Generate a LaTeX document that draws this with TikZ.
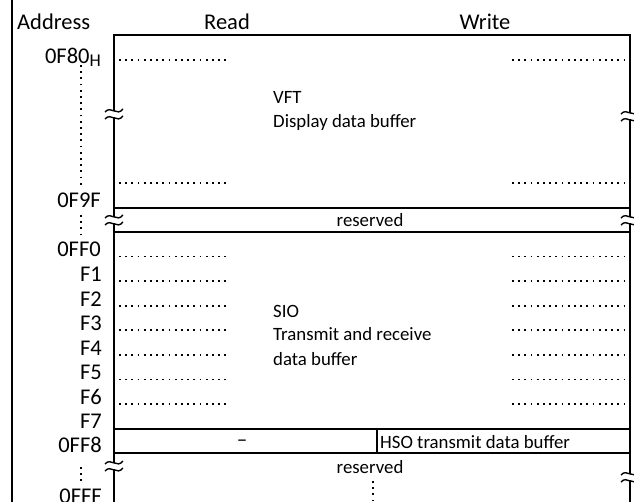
\documentclass[tikz,border=0pt]{standalone}
\usepackage{fontspec}
\setmainfont{Carlito}
\begin{document}
\begin{tikzpicture}[x=1pt,y=-1pt,
  frameline/.style={line width=1.7pt},
  dotline/.style={line width=1.8pt, dash pattern=on 1.8pt off 4.4pt},
  big/.style={font=\fontsize{22.5}{25}\selectfont, inner sep=0pt},
  small/.style={font=\fontsize{18.8}{22}\selectfont, inner sep=0pt},
  brk/.pic={
    \fill[white] (-2.6,-3.4) rectangle (2.6,3.4);
    \draw[line width=1.4pt] (-9,-2) .. controls (-3,-9) and (3,3) .. (9,-5);
    \draw[line width=1.4pt] (-9,5) .. controls (-3,-2) and (3,10) .. (9,2);
  }]
\useasboundingbox (0,0) rectangle (634,502);
% outer frame line
\draw[frameline] (12,0) -- (12,502);
% main box
\coordinate (tl) at (114,35);
\coordinate (tr) at (630,35);
\coordinate (bl) at (114,502);
\coordinate (br) at (630,502);
\draw[frameline] (bl) -- (tl) -- (tr) -- (br);
% reserved band
\draw[frameline] (114,208) -- (630,208);
\draw[frameline] (114,232) -- (630,232);
% 0FF8 row
\draw[frameline] (114,429) -- (630,429);
\draw[frameline] (114,453) -- (630,453);
\draw[frameline] (377,429) -- (377,453);
% dotted row lines
\foreach \yy in {60,183,256.6,281.1,305.7,330.2,354.8,379.4,403.9} {
  \draw[dotline] (119,\yy) -- (228,\yy);
  \draw[dotline] (512,\yy) -- (629,\yy);
}
% dotted address continuation marks
\draw[dotline] (81,65) -- (81,186);
\draw[dotline] (81,215) -- (81,234);
\draw[dotline] (81,467) -- (81,483);
\draw[dotline] (373,481) -- (373,502);
% break marks
\pic at (114,114) {brk};
\pic at (630,116) {brk};
\pic at (114,220) {brk};
\pic at (630,220) {brk};
\pic at (114,466) {brk};
\pic at (630,477) {brk};
% headers
\node[big, anchor=base west] (addr) at (17,30) {Address};
\node[big, anchor=base] (rd) at (227,30) {Read};
\node[big, anchor=base] (wr) at (485,30) {Write};
% address labels
\node[big, anchor=base east] (a0f80) at (101,64) {0F80\raisebox{-3pt}{\fontsize{18}{18}\selectfont H}};
\node[big, anchor=base east] (a0f9f) at (101,208) {0F9F};
\node[big, anchor=base east] (a0ff0) at (101,257) {0FF0};
\node[big, anchor=base east] (af1) at (102,281.6) {F1};
\node[big, anchor=base east] (af2) at (102,306.2) {F2};
\node[big, anchor=base east] (af3) at (102,330.7) {F3};
\node[big, anchor=base east] (af4) at (102,355.3) {F4};
\node[big, anchor=base east] (af5) at (102,379.9) {F5};
\node[big, anchor=base east] (af6) at (102,404.4) {F6};
\node[big, anchor=base east] (af7) at (102,428) {F7};
\node[big, anchor=base east] (a0ff8) at (102,452) {0FF8};
\node[big, anchor=base east] (a0fff) at (102,503) {0FFF};
% contents
\node[small, anchor=base west] (vft) at (273,103.5) {VFT};
\node[small, anchor=base west] (vftb) at (273,127.5) {Display data buffer};
\node[small, anchor=base] (res1) at (370,227) {reserved};
\node[small, anchor=base west] (sio) at (273,317) {SIO};
\node[small, anchor=base west] (sio2) at (273,341) {Transmit and receive};
\node[small, anchor=base west] (sio3) at (273,365) {data buffer};
\node[small, anchor=base] (dash) at (242,446.5) {\fontsize{21}{21}\selectfont –};
\node[small, anchor=base west] (hso) at (380,448) {HSO transmit data buffer};
\node[small, anchor=base] (res2) at (370,473) {reserved};
\end{tikzpicture}
\end{document}
